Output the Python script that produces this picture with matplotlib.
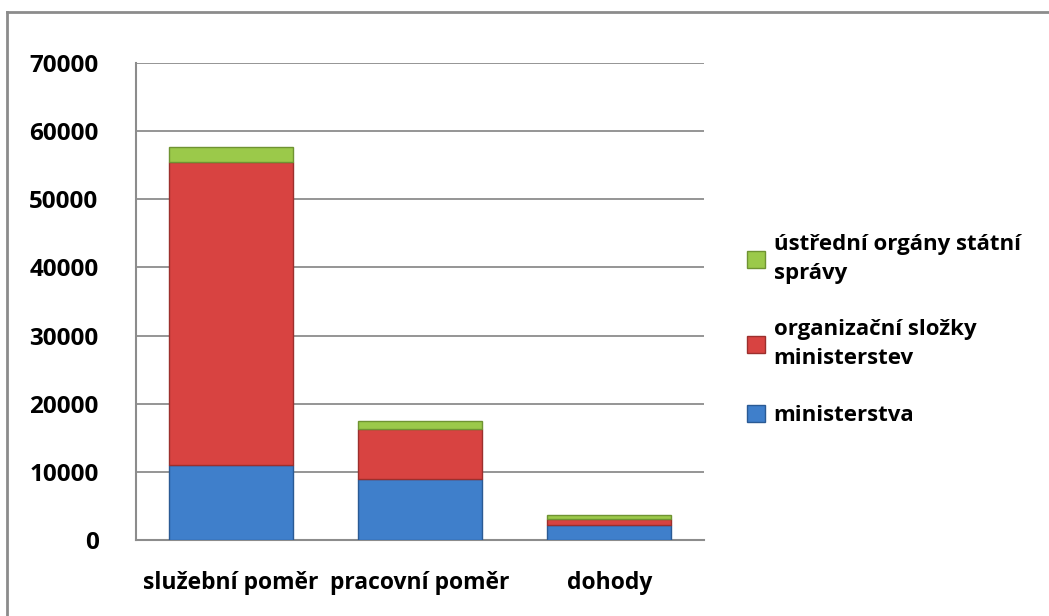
import matplotlib.pyplot as plt
from matplotlib.lines import Line2D
import numpy as np

categories = ['služební poměr', 'pracovní poměr', 'dohody']
ministerstva = [11000, 9000, 2200]
organizacni = [44400, 7300, 850]
ustredni = [2200, 1100, 620]
yticks = [0, 10000, 20000, 30000, 40000, 50000, 60000, 70000]

plt.rcParams['font.family'] = ['Open Sans', 'DejaVu Sans']

fig = plt.figure(figsize=(10.49, 6.16), dpi=100)
ax = fig.add_axes([136/1049, 1-540/616, (704-136)/1049, (540-63)/616])

# outer chart border (only left and top visible)
fig.add_artist(Line2D([7/1049, 7/1049], [0, 1-12/616], color='#8c8c8c', lw=2, transform=fig.transFigure))
fig.add_artist(Line2D([7/1049, 1], [1-12/616, 1-12/616], color='#8c8c8c', lw=2, transform=fig.transFigure))

x = np.arange(len(categories))
w = 0.655
b1 = ax.bar(x, ministerstva, w, color='#3F7FCB', edgecolor='#2a5a94', lw=1, zorder=3,
            label='ministerstva')
bottom2 = np.array(ministerstva)
b2 = ax.bar(x, organizacni, w, bottom=bottom2, color='#D84341', edgecolor='#9c2f2d', lw=1,
            zorder=3, label='organizační složky\nministerstev')
bottom3 = bottom2 + np.array(organizacni)
b3 = ax.bar(x, ustredni, w, bottom=bottom3, color='#9BC94A', edgecolor='#6f9332', lw=1,
            zorder=3, label='ústřední orgány státní\nsprávy')

ax.set_xlim(-0.5, 2.5)
ax.set_ylim(0, 70000)
ax.set_yticks(yticks)
ax.set_yticklabels([str(v) for v in yticks], fontsize=17.5, fontweight='bold')
ax.set_xticks(x)
ax.set_xticklabels(categories, fontsize=16.5, fontweight='bold')
ax.tick_params(axis='y', length=0, pad=27)
ax.tick_params(axis='x', length=0, pad=22)
ax.grid(axis='y', color='#8c8c8c', lw=1.3, zorder=0)
for s in ['top', 'right']:
    ax.spines[s].set_visible(False)
ax.spines['left'].set_color('#8c8c8c')
ax.spines['bottom'].set_color('#8c8c8c')
ax.spines['left'].set_linewidth(1.5)
ax.spines['bottom'].set_linewidth(1.5)

leg = ax.legend(handles=[b3, b2, b1], loc='center left', bbox_to_anchor=(727/1049, 1-330/616),
                bbox_transform=fig.transFigure, frameon=False, prop={'size': 16, 'weight': 'bold'},
                handlelength=0.8, handleheight=0.8, handletextpad=0.4, labelspacing=1.6)
for t in leg.get_texts():
    t.set_linespacing(1.5)

fig.savefig('out.png', dpi=100)
